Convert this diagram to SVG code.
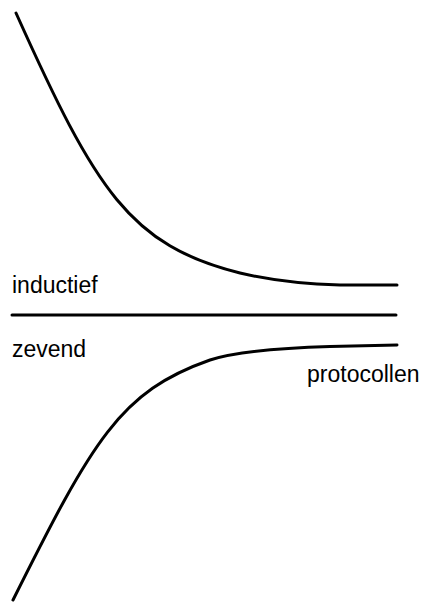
<svg xmlns="http://www.w3.org/2000/svg" width="438" height="602" viewBox="0 0 438 602">
<style>
.c{fill:none;stroke:#000;stroke-width:3;stroke-linecap:round;stroke-linejoin:round}
.t{font-family:"Liberation Sans",Arial,sans-serif;font-size:23px;fill:#000}
</style>
<rect width="438" height="602" fill="#fff"/>
<g id="connectors">
<path class="c" d="M16,13 C96,191 130,245.5 240,273 C265,279 300,284 340,285 L397,285"/>
<path class="c" d="M12,315 L396,315"/>
<path class="c" d="M13,600 C93,440 120,391.5 210,360 C235,352 280,348 330,346.5 L397,345"/>
</g>
<g id="inductief"><text class="t" x="12" y="293">inductief</text></g>
<g id="zevend"><text class="t" x="12" y="357">zevend</text></g>
<g id="protocollen"><text class="t" x="307" y="382">protocollen</text></g>
</svg>
